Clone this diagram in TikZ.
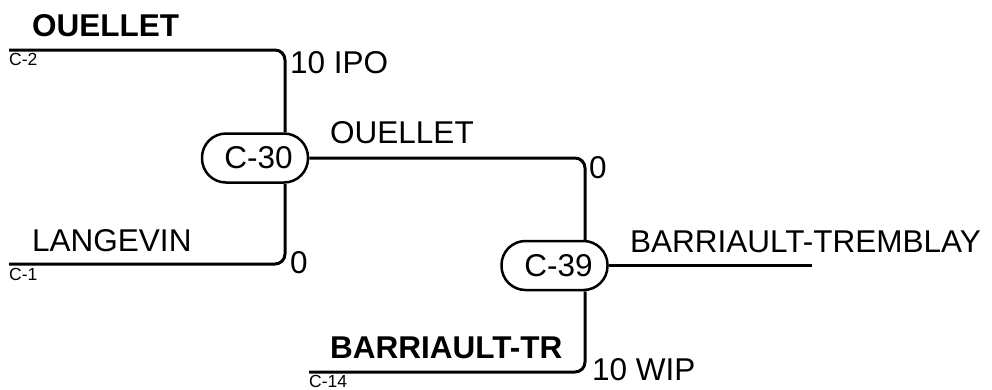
\documentclass[tikz,border=0pt]{standalone}
\usepackage{fontspec}
\setmainfont{Liberation Sans}
\begin{document}
\begin{tikzpicture}[x=1pt,y=-1pt,
  lbl/.style={inner sep=0pt,anchor=base west,font=\fontsize{31.5}{36}\selectfont},
  tag/.style={inner sep=0pt,anchor=base west,font=\fontsize{17.5}{20}\selectfont},
  hub/.style={draw,line width=2.5pt,rounded corners=24pt,minimum width=106pt,minimum height=49pt,inner sep=0pt,font=\fontsize{31.5}{36}\selectfont},
  wire/.style={line width=3pt,rounded corners=10pt}]
\useasboundingbox (0,0) rectangle (992,389);
% hubs
\node[hub] (c30) at (255,158) {\hspace{7pt}C-30};
\node[hub] (c39) at (554.5,265.5) {\hspace{8pt}C-39};
% free ends
\coordinate (c2s) at (9,50);
\coordinate (c1s) at (9,264);
\coordinate (c14s) at (309,372);
\coordinate (outE) at (812,264);
\coordinate (j30n) at ([xshift=30pt]c30.north);
\coordinate (j30s) at ([xshift=30pt]c30.south);
\coordinate (j39n) at ([xshift=30.5pt]c39.north);
\coordinate (j39s) at ([xshift=30.5pt]c39.south);
% wires
\draw[wire] (c2s) -| (j30n);
\draw[wire] (c1s) -| (j30s);
\draw[wire] (c30.east) -| (j39n);
\draw[wire] (c14s) -| (j39s);
\draw[wire] (c39.east) -- (c39.east -| outE);
% labels
\node[lbl] (l1) at (32,36) {\textbf{OUELLET}};
\node[tag] (t1) at (9,65) {C-2};
\node[lbl] (l2) at (290,73) {10 IPO};
\node[lbl] (l3) at (330,143) {OUELLET};
\node[lbl] (l4) at (589,178) {0};
\node[lbl] (l5) at (32,251) {LANGEVIN};
\node[tag] (t2) at (9,280) {C-1};
\node[lbl] (l6) at (290,273) {0};
\node[lbl] (l7) at (630,252) {BARRIAULT-TREMBLAY};
\node[lbl] (l8) at (330,358) {\textbf{BARRIAULT-TR}};
\node[tag] (t3) at (309,387) {C-14};
\node[lbl] (l9) at (592,380) {10 WIP};
\end{tikzpicture}
\end{document}
